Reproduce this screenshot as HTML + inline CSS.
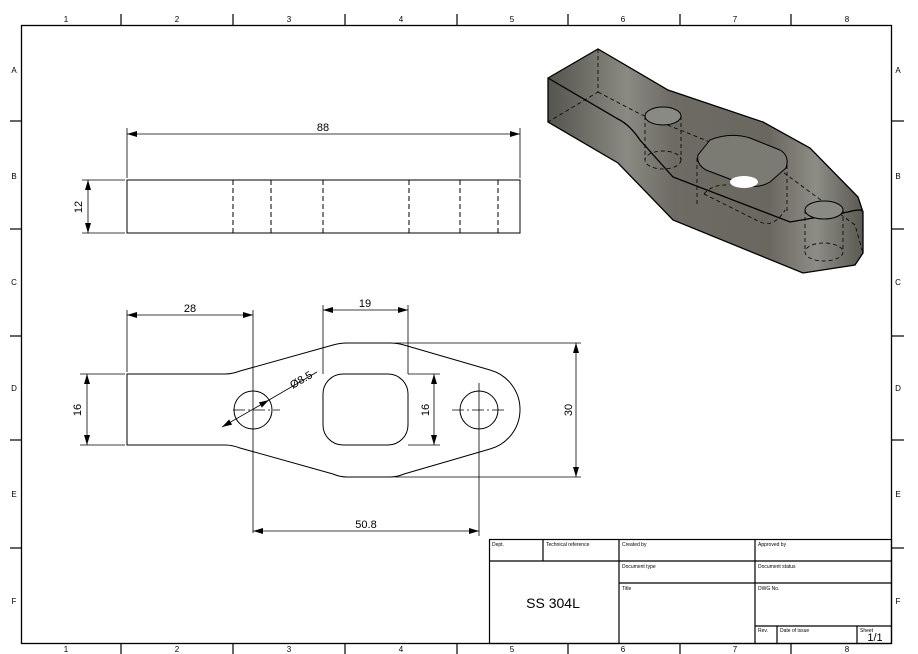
<!DOCTYPE html>
<html><head><meta charset="utf-8"><style>
html,body{margin:0;padding:0;background:#fff}
svg{display:block}
text{font-family:"Liberation Sans",sans-serif;fill:#000}
</style></head><body>
<svg width="918" height="654" viewBox="0 0 918 654" xmlns="http://www.w3.org/2000/svg">
<defs>
<marker id="a" viewBox="0 0 10 6" refX="10" refY="3" markerWidth="10" markerHeight="6" orient="auto-start-reverse" markerUnits="userSpaceOnUse"><path d="M0,0 L10,3 L0,6 z" fill="#000"/></marker>
<linearGradient id="g" x1="0" y1="0" x2="1" y2="0">
<stop offset="0" stop-color="#55554f"/><stop offset="0.25" stop-color="#8a8a82"/><stop offset="0.4" stop-color="#6d6b63"/><stop offset="0.7" stop-color="#6a675f"/><stop offset="0.85" stop-color="#8d8c85"/><stop offset="1" stop-color="#5a5952"/>
</linearGradient>
</defs>
<g stroke="#000" fill="none" stroke-width="1">
<!-- frame -->
<rect x="21.5" y="25.5" width="870" height="618" stroke-width="1.3"/>
<g stroke-width="1.2">
<line x1="121" y1="14" x2="121" y2="25"/><line x1="233" y1="14" x2="233" y2="25"/><line x1="345" y1="14" x2="345" y2="25"/><line x1="457" y1="14" x2="457" y2="25"/><line x1="568" y1="14" x2="568" y2="25"/><line x1="680" y1="14" x2="680" y2="25"/><line x1="791" y1="14" x2="791" y2="25"/>
<line x1="121" y1="643" x2="121" y2="654"/><line x1="233" y1="643" x2="233" y2="654"/><line x1="345" y1="643" x2="345" y2="654"/><line x1="457" y1="643" x2="457" y2="654"/><line x1="568" y1="643" x2="568" y2="654"/><line x1="680" y1="643" x2="680" y2="654"/><line x1="791" y1="643" x2="791" y2="654"/>
<line x1="10" y1="121" x2="21" y2="121"/><line x1="10" y1="229" x2="21" y2="229"/><line x1="10" y1="336" x2="21" y2="336"/><line x1="10" y1="440" x2="21" y2="440"/><line x1="10" y1="548" x2="21" y2="548"/>
<line x1="891" y1="121" x2="904" y2="121"/><line x1="891" y1="229" x2="904" y2="229"/><line x1="891" y1="336" x2="904" y2="336"/><line x1="891" y1="440" x2="904" y2="440"/><line x1="891" y1="548" x2="904" y2="548"/>
</g>
<!-- side view -->
<rect x="127" y="180" width="393" height="53"/>
<g stroke-dasharray="5,3">
<line x1="233" y1="180" x2="233" y2="233"/><line x1="271" y1="180" x2="271" y2="233"/><line x1="323" y1="180" x2="323" y2="233"/><line x1="409" y1="180" x2="409" y2="233"/><line x1="460" y1="180" x2="460" y2="233"/><line x1="498" y1="180" x2="498" y2="233"/>
</g>
<g stroke-width="0.8">
<line x1="127" y1="128" x2="127" y2="178"/><line x1="520" y1="128" x2="520" y2="178"/>
<line x1="127" y1="134" x2="520" y2="134" marker-start="url(#a)" marker-end="url(#a)"/>
<line x1="82" y1="180" x2="125" y2="180"/><line x1="82" y1="233" x2="125" y2="233"/>
<line x1="88" y1="180" x2="88" y2="233" marker-start="url(#a)" marker-end="url(#a)"/>
</g>
<!-- plan view -->
<path d="M127,374 L225,374 Q232,374 240,371 L333,345 Q340,343 347,343 L390,343 Q397,343 404,345 L490,370 A41,41 0 0 1 490,449 L404,474 Q397,477 390,477 L347,477 Q340,477 333,474 L240,448 Q232,445 225,445 L127,445 Z"/>
<rect x="323" y="374" width="85" height="71" rx="20" ry="20"/>
<circle cx="253" cy="410" r="19"/>
<circle cx="479" cy="410" r="19"/>
<g stroke-width="0.8">
<line x1="233" y1="410" x2="280" y2="410" stroke-dasharray="12,3,2,3"/>
<line x1="452" y1="410" x2="506" y2="410" stroke-dasharray="12,3,2,3"/>
<line x1="253" y1="310" x2="253" y2="533"/>
<line x1="479" y1="383" x2="479" y2="536"/>
<line x1="127" y1="310" x2="127" y2="372"/>
<line x1="127" y1="315" x2="253" y2="315" marker-start="url(#a)" marker-end="url(#a)"/>
<line x1="323" y1="305" x2="323" y2="374"/><line x1="408" y1="305" x2="408" y2="374"/>
<line x1="323" y1="310" x2="408" y2="310" marker-start="url(#a)" marker-end="url(#a)"/>
<line x1="408" y1="374" x2="440" y2="374"/><line x1="408" y1="445" x2="440" y2="445"/>
<line x1="434" y1="374" x2="434" y2="445" marker-start="url(#a)" marker-end="url(#a)"/>
<line x1="395" y1="343" x2="581" y2="343"/><line x1="395" y1="477" x2="581" y2="477"/>
<line x1="576" y1="343" x2="576" y2="477" marker-start="url(#a)" marker-end="url(#a)"/>
<line x1="80" y1="374" x2="125" y2="374"/><line x1="80" y1="445" x2="125" y2="445"/>
<line x1="87" y1="374" x2="87" y2="445" marker-start="url(#a)" marker-end="url(#a)"/>
<line x1="253" y1="531" x2="479" y2="531" marker-start="url(#a)" marker-end="url(#a)"/>
<line x1="222" y1="427" x2="269" y2="400" marker-start="url(#a)" marker-end="url(#a)"/>
<line x1="269" y1="400" x2="317" y2="372"/>
</g>
<!-- isometric -->
<path d="M548,78 L598,49 L668,90 L763,122 L810,148 L858,197 L863,212 L863,253 L855,265 L803,273 L673,220 L618,163 L548,122 Z" fill="url(#g)" stroke-width="1.3"/>
<path d="M548,78 L618,119 Q630,125 640,140 L673,177 L790,222 L848,212 Q862,208 863,212" stroke-width="1.3"/>
<path d="M598,49 L598,92 L548,122 M598,92 L640,114 L780,170 L855,225 L863,253" stroke-dasharray="4,3" stroke-width="0.8"/>
<ellipse cx="663" cy="116" rx="18" ry="9" fill="#8a8a84"/>
<line x1="645" y1="116" x2="645" y2="160" stroke-dasharray="4,3" stroke-width="0.8"/>
<line x1="681" y1="116" x2="681" y2="160" stroke-dasharray="4,3" stroke-width="0.8"/>
<ellipse cx="663" cy="160" rx="18" ry="9" stroke-dasharray="4,3" stroke-width="0.8"/>
<path d="M710,140 Q730,132 750,138 L780,150 Q790,156 786,168 L770,182 Q760,188 748,186 L706,170 Q696,164 698,155 Z" fill="#7b7a73"/>
<path d="M697,158 L697,205 M787,165 L787,213" stroke-dasharray="4,3" stroke-width="0.8"/>
<path d="M704,194 L760,222 Q774,228 785,210 M704,194 Q712,184 730,185" stroke-dasharray="4,3" stroke-width="0.8"/>
<ellipse cx="744" cy="182" rx="14" ry="6" fill="#fff" stroke="none"/>
<ellipse cx="824" cy="210" rx="19" ry="9" fill="#8a8a84"/>
<line x1="805" y1="210" x2="805" y2="252" stroke-dasharray="4,3" stroke-width="0.8"/>
<line x1="843" y1="210" x2="843" y2="252" stroke-dasharray="4,3" stroke-width="0.8"/>
<ellipse cx="824" cy="252" rx="19" ry="9" stroke-dasharray="4,3" stroke-width="0.8"/>
<!-- title block -->
<g stroke-width="1.2">
<rect x="489.5" y="539.5" width="402" height="104"/>
<line x1="489" y1="561" x2="891" y2="561"/>
<line x1="619" y1="583" x2="891" y2="583"/>
<line x1="755" y1="626" x2="891" y2="626"/>
<line x1="543" y1="539" x2="543" y2="561"/>
<line x1="619" y1="539" x2="619" y2="643"/>
<line x1="755" y1="539" x2="755" y2="643"/>
<line x1="777" y1="626" x2="777" y2="643"/>
<line x1="857" y1="626" x2="857" y2="643"/>
</g>
</g>
<g font-size="8" text-anchor="middle">
<text x="66" y="22">1</text><text x="177" y="22">2</text><text x="289" y="22">3</text><text x="401" y="22">4</text><text x="512" y="22">5</text><text x="623" y="22">6</text><text x="735" y="22">7</text><text x="847" y="22">8</text>
<text x="66" y="652">1</text><text x="177" y="652">2</text><text x="289" y="652">3</text><text x="401" y="652">4</text><text x="512" y="652">5</text><text x="623" y="652">6</text><text x="735" y="652">7</text><text x="847" y="652">8</text>
<text x="14" y="73">A</text><text x="14" y="179">B</text><text x="14" y="285">C</text><text x="14" y="391">D</text><text x="14" y="497">E</text><text x="14" y="604">F</text>
<text x="898" y="73">A</text><text x="898" y="179">B</text><text x="898" y="285">C</text><text x="898" y="391">D</text><text x="898" y="497">E</text><text x="898" y="604">F</text>
</g>
<g font-size="11" text-anchor="middle">
<text x="323" y="131">88</text>
<text x="190" y="312">28</text>
<text x="365" y="307">19</text>
<text x="366" y="528">50.8</text>
<text transform="translate(82,207) rotate(-90)">12</text>
<text transform="translate(81,410) rotate(-90)">16</text>
<text transform="translate(429,410) rotate(-90)">16</text>
<text transform="translate(572,410) rotate(-90)">30</text>
<text transform="translate(303,383) rotate(-30)">Ø8.5</text>
</g>
<g font-size="5">
<text x="492" y="546">Dept.</text><text x="546" y="546">Technical reference</text><text x="622" y="546">Created by</text><text x="758" y="546">Approved by</text>
<text x="622" y="568">Document type</text><text x="758" y="568">Document status</text>
<text x="622" y="590">Title</text><text x="758" y="590">DWG No.</text>
<text x="758" y="632">Rev.</text><text x="780" y="632">Date of issue</text><text x="860" y="632">Sheet</text>
</g>
<text x="553" y="608" font-size="14" text-anchor="middle">SS 304L</text>
<text x="875" y="641" font-size="11" text-anchor="middle">1/1</text>
</svg>
</body></html>
